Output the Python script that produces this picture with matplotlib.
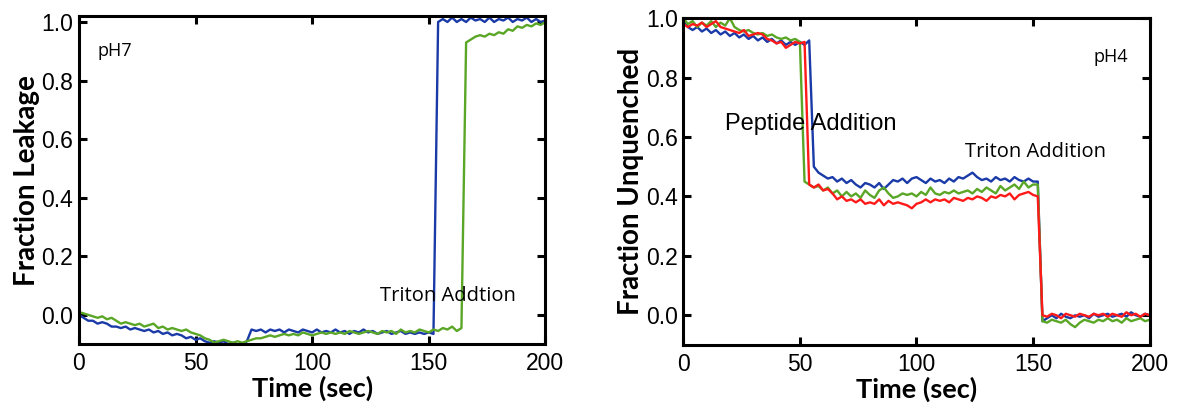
import matplotlib.pyplot as plt
import numpy as np

#----------------------------------------------------------------------------------
#data read from the reference, sampled every 2 sec

time = np.arange(0, 201, 2)

#pH7 leakage
ph7_blue = [0.00, -0.01, -0.02, -0.02, -0.03, -0.025, -0.03, -0.04, -0.04, -0.045,
            -0.04, -0.05, -0.045, -0.05, -0.055, -0.05, -0.06, -0.055, -0.065, -0.06,
            -0.07, -0.065, -0.07, -0.08, -0.075, -0.085, -0.08, -0.09, -0.095, -0.09,
            -0.095, -0.09, -0.1, -0.095, -0.1, -0.105, -0.09, -0.05, -0.055, -0.05,
            -0.06, -0.05, -0.055, -0.05, -0.06, -0.05, -0.055, -0.06, -0.05, -0.055,
            -0.06, -0.05, -0.06, -0.055, -0.06, -0.05, -0.06, -0.055, -0.065, -0.055,
            -0.06, -0.05, -0.06, -0.055, -0.065, -0.06, -0.055, -0.065, -0.06, -0.055,
            -0.065, -0.06, -0.065, -0.06, -0.065, -0.06, -0.065,
            1.0, 1.01, 1.0, 1.015, 1.0, 1.01, 1.0, 1.015, 1.005, 1.01,
            1.0, 1.015, 1.0, 1.01, 1.005, 1.015, 1.0, 1.01, 1.005, 1.015,
            1.0, 1.01, 1.0, 1.005]
ph7_green = [0.01, 0.005, 0.0, -0.005, -0.01, -0.005, -0.015, -0.01, -0.02, -0.03,
             -0.025, -0.03, -0.035, -0.03, -0.04, -0.035, -0.03, -0.045, -0.04, -0.05,
             -0.045, -0.05, -0.055, -0.05, -0.06, -0.065, -0.07, -0.08, -0.085, -0.095,
             -0.09, -0.085, -0.09, -0.095, -0.09, -0.095, -0.09, -0.085, -0.08, -0.08,
             -0.075, -0.07, -0.075, -0.07, -0.065, -0.07, -0.065, -0.07, -0.06, -0.065,
             -0.07, -0.065, -0.06, -0.065, -0.06, -0.065, -0.06, -0.065, -0.055, -0.06,
             -0.065, -0.06, -0.055, -0.06, -0.065, -0.055, -0.06, -0.055, -0.065, -0.05,
             -0.06, -0.055, -0.06, -0.05, -0.055, -0.06, -0.05, -0.055, -0.045, -0.05,
             -0.04, -0.055, -0.045,
             0.93, 0.94, 0.95, 0.955, 0.95, 0.96, 0.955, 0.965, 0.96, 0.975,
             0.97, 0.985, 0.98, 0.99, 0.985, 0.995, 0.99, 1.0]

#pH4 unquenched
ph4_blue = [0.99, 0.97, 0.96, 0.97, 0.955, 0.965, 0.95, 0.96, 0.945, 0.955,
            0.94, 0.95, 0.935, 0.945, 0.93, 0.94, 0.925, 0.935, 0.92, 0.93,
            0.915, 0.925, 0.91, 0.92, 0.91, 0.92, 0.91, 0.925, 0.50, 0.48,
            0.47, 0.46, 0.465, 0.45, 0.46, 0.445, 0.455, 0.44, 0.43, 0.445,
            0.44, 0.43, 0.445, 0.425, 0.44, 0.455, 0.45, 0.46, 0.445, 0.46,
            0.465, 0.455, 0.445, 0.46, 0.45, 0.455, 0.445, 0.46, 0.45, 0.465,
            0.46, 0.47, 0.48, 0.465, 0.455, 0.46, 0.45, 0.465, 0.455, 0.46,
            0.45, 0.465, 0.455, 0.45, 0.46, 0.45, 0.45,
            -0.02, -0.01, 0.0, -0.01, 0.005, -0.005, -0.01, 0.0, -0.005, 0.0,
            -0.01, 0.005, -0.005, 0.0, 0.005, -0.005, 0.0, 0.005, -0.005, 0.01,
            0.0, -0.005, 0.005, 0.0]
ph4_green = [1.0, 0.98, 0.99, 0.97, 0.985, 0.975, 0.99, 0.97, 0.985, 0.975,
             1.0, 0.97, 0.96, 0.955, 0.96, 0.95, 0.945, 0.95, 0.94, 0.945,
             0.935, 0.93, 0.935, 0.925, 0.93, 0.92, 0.45, 0.44, 0.43, 0.435,
             0.42, 0.43, 0.41, 0.42, 0.40, 0.415, 0.40, 0.41, 0.395, 0.42,
             0.405, 0.395, 0.42, 0.43, 0.41, 0.395, 0.40, 0.41, 0.405, 0.41,
             0.40, 0.415, 0.405, 0.43, 0.41, 0.405, 0.415, 0.41, 0.42, 0.41,
             0.415, 0.42, 0.41, 0.425, 0.415, 0.43, 0.42, 0.41, 0.435, 0.42,
             0.43, 0.44, 0.425, 0.45, 0.43, 0.44, 0.44,
             -0.02, -0.025, -0.015, -0.02, -0.025, -0.015, -0.03, -0.04, -0.025, -0.015,
             -0.02, -0.025, -0.015, -0.02, -0.01, -0.02, -0.015, -0.025, -0.01, -0.02,
             -0.015, -0.01, -0.02, -0.015]
ph4_red = [0.98, 0.97, 0.98, 0.975, 0.985, 0.97, 0.98, 0.99, 0.97, 0.965,
           0.96, 0.955, 0.95, 0.96, 0.94, 0.945, 0.95, 0.945, 0.93, 0.925,
           0.915, 0.92, 0.9, 0.91, 0.92, 0.915, 0.92, 0.44, 0.43, 0.44,
           0.42, 0.425, 0.41, 0.39, 0.40, 0.385, 0.39, 0.38, 0.39, 0.375,
           0.38, 0.375, 0.39, 0.37, 0.385, 0.375, 0.38, 0.375, 0.37, 0.36,
           0.375, 0.38, 0.39, 0.38, 0.39, 0.385, 0.39, 0.38, 0.395, 0.39,
           0.385, 0.395, 0.39, 0.40, 0.395, 0.385, 0.40, 0.395, 0.405, 0.40,
           0.41, 0.39, 0.405, 0.41, 0.415, 0.405, 0.40,
           0.0, -0.005, 0.005, 0.0, -0.01, 0.005, 0.0, -0.005, 0.005, 0.0,
           -0.005, 0.005, 0.0, 0.005, -0.005, 0.005, 0.0, -0.005, 0.01, 0.0,
           0.005, -0.005, 0.005, 0.0]

xticks = [0, 50, 100, 150, 200]
yticks = [0.0, 0.2, 0.4, 0.6, 0.8, 1.0]

blue = "#1a3aa8"
green = "#5aa626"
red = "#ff1a1a"

#----------------------------------------------------------------------------------

def style_axes(ax, ylabel, ymax):
    ax.set_xlim(0, 200)
    ax.set_ylim(-0.1, ymax)
    ax.set_xticks(xticks)
    ax.set_yticks(yticks)
    ax.set_yticklabels(["%.1f" % v for v in yticks])
    ax.tick_params(direction="in", top=True, right=True, length=6, width=2.2,
                   labelsize=16.5)
    ax.tick_params(axis="x", pad=6)
    ax.tick_params(axis="y", pad=4)
    for label in ax.get_xticklabels() + ax.get_yticklabels():
        label.set_fontfamily("Liberation Sans")
    for spine in ax.spines.values():
        spine.set_linewidth(2.2)
    ax.set_xlabel("Time (sec)", fontsize=19.5, fontweight="bold", family="Lato", labelpad=0)
    ax.set_ylabel(ylabel, fontsize=20, fontweight="bold", family="Lato", labelpad=1)

fig = plt.figure(figsize=(11.78, 4.03), dpi=100)

#----------------------------------------------------------------------------------
#left panel, pH7

ax1 = fig.add_axes([0.067, 0.146, 0.396, 0.814])
ax1.plot(time, ph7_blue, color=blue, linewidth=1.7)
ax1.plot(time, ph7_green, color=green, linewidth=1.7)
style_axes(ax1, "Fraction Leakage", 1.02)
ax1.text(8, 0.90, "pH7", fontsize=13, family="Open Sans", va="center")
ax1.text(129, 0.065, "Triton Addtion", fontsize=14.5, family="Open Sans", va="center")

#----------------------------------------------------------------------------------
#right panel, pH4

ax2 = fig.add_axes([0.580, 0.144, 0.396, 0.811])
ax2.plot(time, ph4_blue, color=blue, linewidth=1.7)
ax2.plot(time, ph4_green, color=green, linewidth=1.7)
ax2.plot(time, ph4_red, color=red, linewidth=1.7)
style_axes(ax2, "Fraction Unquenched", 1.0)
ax2.text(176, 0.87, "pH4", fontsize=13, family="Open Sans", va="center")
ax2.text(18, 0.643, "Peptide Addition", fontsize=17, family="Liberation Sans", va="center")
ax2.text(121, 0.549, "Triton Addition", fontsize=14.5, family="Open Sans", va="center")

#----------------------------------------------------------------------------------

fig.savefig("out.png", dpi=100)
